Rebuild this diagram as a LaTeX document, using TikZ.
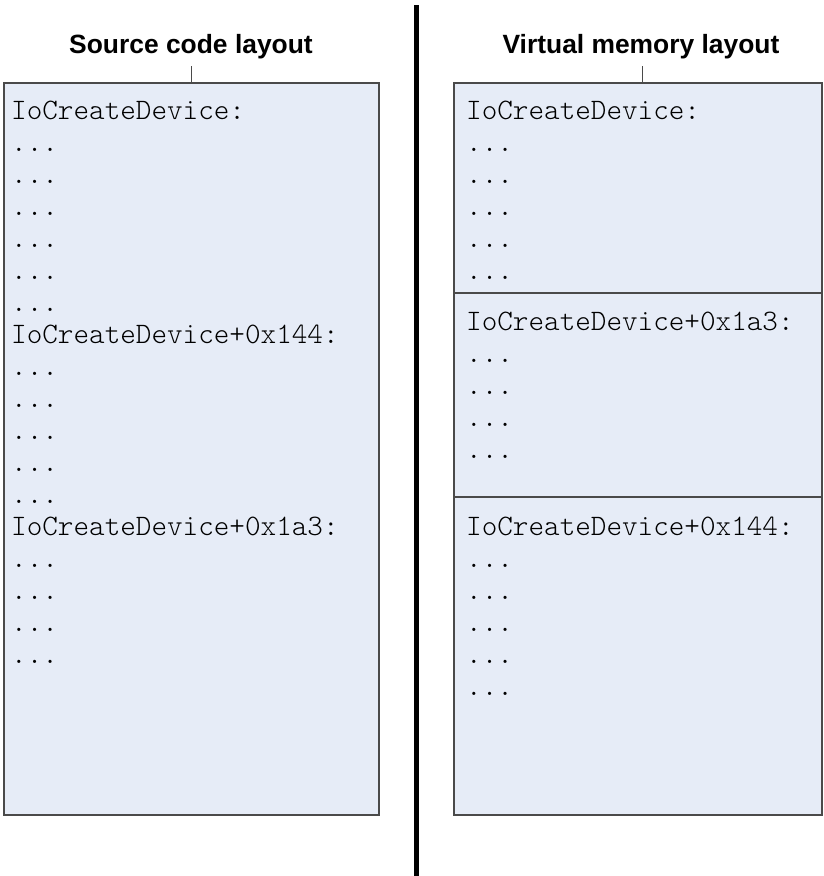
\documentclass[tikz,border=0pt]{standalone}
\usepackage{fontspec}
\setmainfont{Liberation Sans}
\newfontfamily\codefont{Latin Modern Mono Light}
\definecolor{boxfill}{HTML}{E6ECF7}
\definecolor{boxline}{HTML}{4A4A4A}
\begin{document}
\begin{tikzpicture}[x=1pt,y=-1pt,
  panel/.style={draw=boxline,fill=boxfill,line width=1.2pt},
  divider/.style={draw=boxline,line width=1.2pt},
  tick/.style={draw=boxline,line width=0.9pt},
  codeline/.style={anchor=base west,inner sep=0pt,font=\codefont\fontsize{29.7}{32}\selectfont},
  title/.style={anchor=base,inner sep=0pt,font=\bfseries\fontsize{26.4}{30}\selectfont},
  sep/.style={line width=5pt,draw=black}]
\useasboundingbox (0,0) rectangle (824,876);
% titles
\node[title] (t1) at (191,53) {Source code layout};
\node[title] (t2) at (641,53) {Virtual memory layout};
% panels
\draw[panel] (4,83) rectangle (379,815);
\draw[panel] (454,83) rectangle (822,815);
\coordinate (lt) at (191,83);
\coordinate (rt) at (642,83);
\draw[tick] (lt) -- ++(0,-17);
\draw[tick] (rt) -- ++(0,-17);
\draw[divider] (454,293) -- (822,293);
\draw[divider] (454,497) -- (822,497);
% separator
\coordinate (s1) at (416.7,5);
\coordinate (s2) at (416.7,876);
\draw[sep] (s1) -- (s2);
% left code
\node[codeline] (l0) at (11,119) {IoCreateDevice:};
\foreach \k in {1,...,6} {\node[codeline] (la\k) at (11,119+32*\k) {...};}
\node[codeline] (l7) at (11,119+32*7) {IoCreateDevice+0x144:};
\foreach \k in {8,...,12} {\node[codeline] (lb\k) at (11,119+32*\k) {...};}
\node[codeline] (l13) at (11,119+32*13) {IoCreateDevice+0x1a3:};
\foreach \k in {14,...,17} {\node[codeline] (lc\k) at (11,119+32*\k) {...};}
% right code
\node[codeline] (r0) at (466,119) {IoCreateDevice:};
\foreach \k in {1,...,5} {\node[codeline] (ra\k) at (466,119+32*\k) {...};}
\node[codeline] (r2h) at (466,330) {IoCreateDevice+0x1a3:};
\foreach \k in {1,...,4} {\node[codeline] (rb\k) at (466,330+32*\k) {...};}
\node[codeline] (r3h) at (466,535) {IoCreateDevice+0x144:};
\foreach \k in {1,...,5} {\node[codeline] (rc\k) at (466,535+32*\k) {...};}
\end{tikzpicture}
\end{document}
